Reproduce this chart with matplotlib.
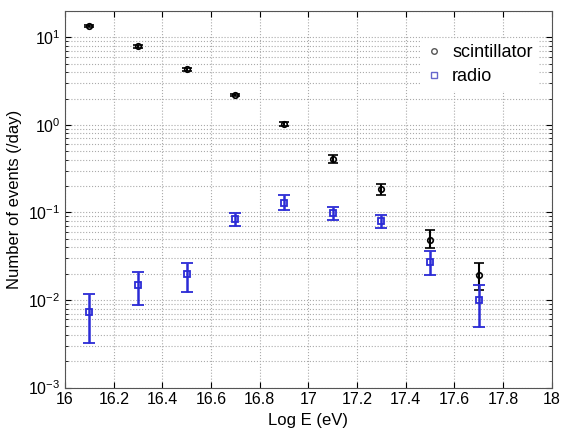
import matplotlib
matplotlib.use("Agg")
from matplotlib import pyplot as plt
from matplotlib.ticker import LogLocator, NullFormatter

plt.rcParams['font.family'] = ['Liberation Sans', 'DejaVu Sans']

# energy bins
log_e = [16.1, 16.3, 16.5, 16.7, 16.9, 17.1, 17.3, 17.5, 17.7]

# scintillator rates (/day) and asymmetric errors
scint = [13.6, 7.9, 4.3, 2.2, 1.03, 0.41, 0.185, 0.049, 0.0195]
scint_lo = [0.4, 0.25, 0.15, 0.08, 0.05, 0.04, 0.025, 0.010, 0.0066]
scint_hi = [0.4, 0.25, 0.15, 0.08, 0.05, 0.045, 0.028, 0.014, 0.0071]

# radio rates (/day) and asymmetric errors
radio = [0.0074, 0.0147, 0.0197, 0.084, 0.127, 0.098, 0.080, 0.0273, 0.0099]
radio_lo = [0.0042, 0.0060, 0.0072, 0.014, 0.021, 0.016, 0.014, 0.0081, 0.0050]
radio_hi = [0.0043, 0.0061, 0.0069, 0.014, 0.030, 0.017, 0.014, 0.0087, 0.0050]

blue = '#2b2bd6'

fig = plt.figure(figsize=(5.66, 4.38), dpi=100)
ax = fig.add_axes([0.115, 0.115, 0.86, 0.86])

ax.errorbar(log_e, scint, yerr=[scint_lo, scint_hi], fmt='o', color='black',
            mfc='none', mec='black', ms=4, mew=1.2, elinewidth=1.5, capsize=3.5,
            capthick=1.5, label='scintillator', zorder=3)
ax.errorbar(log_e, radio, yerr=[radio_lo, radio_hi], fmt='s', color=blue,
            mfc='none', mec=blue, ms=5, mew=1.3, elinewidth=1.8, capsize=4.5,
            capthick=1.8, label='radio', zorder=3)

ax.set_yscale('log')
ax.set_xlim(16, 18)
ax.set_ylim(1e-3, 20)
ax.set_xticks([16 + 0.2 * i for i in range(11)])
ax.set_xticklabels(['16', '16.2', '16.4', '16.6', '16.8', '17', '17.2', '17.4',
                    '17.6', '17.8', '18'])
ax.yaxis.set_major_locator(LogLocator(base=10, numticks=10))
ax.yaxis.set_minor_locator(LogLocator(base=10, subs=range(2, 10), numticks=20))
ax.yaxis.set_minor_formatter(NullFormatter())

ax.tick_params(which='both', direction='in', top=True, right=True, labelsize=11.5)
ax.tick_params(which='major', length=4)
ax.tick_params(which='minor', length=2)

ax.grid(True, which='major', linestyle=':', color='#aaaaaa', linewidth=0.8)
ax.grid(True, which='minor', axis='y', linestyle=':', color='#aaaaaa', linewidth=0.8)
for s in ax.spines.values():
    s.set_color('#555555')

ax.set_xlabel('Log E (eV)', fontsize=12)
ax.set_ylabel('Number of events (/day)', fontsize=12)

# legend markers only, no error bars
h1 = plt.Line2D([], [], marker='o', ls='none', mfc='none', mec='#555555', ms=4)
h2 = plt.Line2D([], [], marker='s', ls='none', mfc='none', mec='#6666cc', ms=4)
leg = ax.legend([h1, h2], ['scintillator', 'radio'], loc='upper right',
                bbox_to_anchor=(0.99, 0.95), frameon=True, fontsize=13,
                handlelength=0.8, handletextpad=0.6, borderpad=0.3,
                labelspacing=0.4)
leg.get_frame().set_edgecolor('none')
leg.get_frame().set_facecolor('white')
leg.get_frame().set_alpha(1)

plt.savefig('out.png', dpi=100)
